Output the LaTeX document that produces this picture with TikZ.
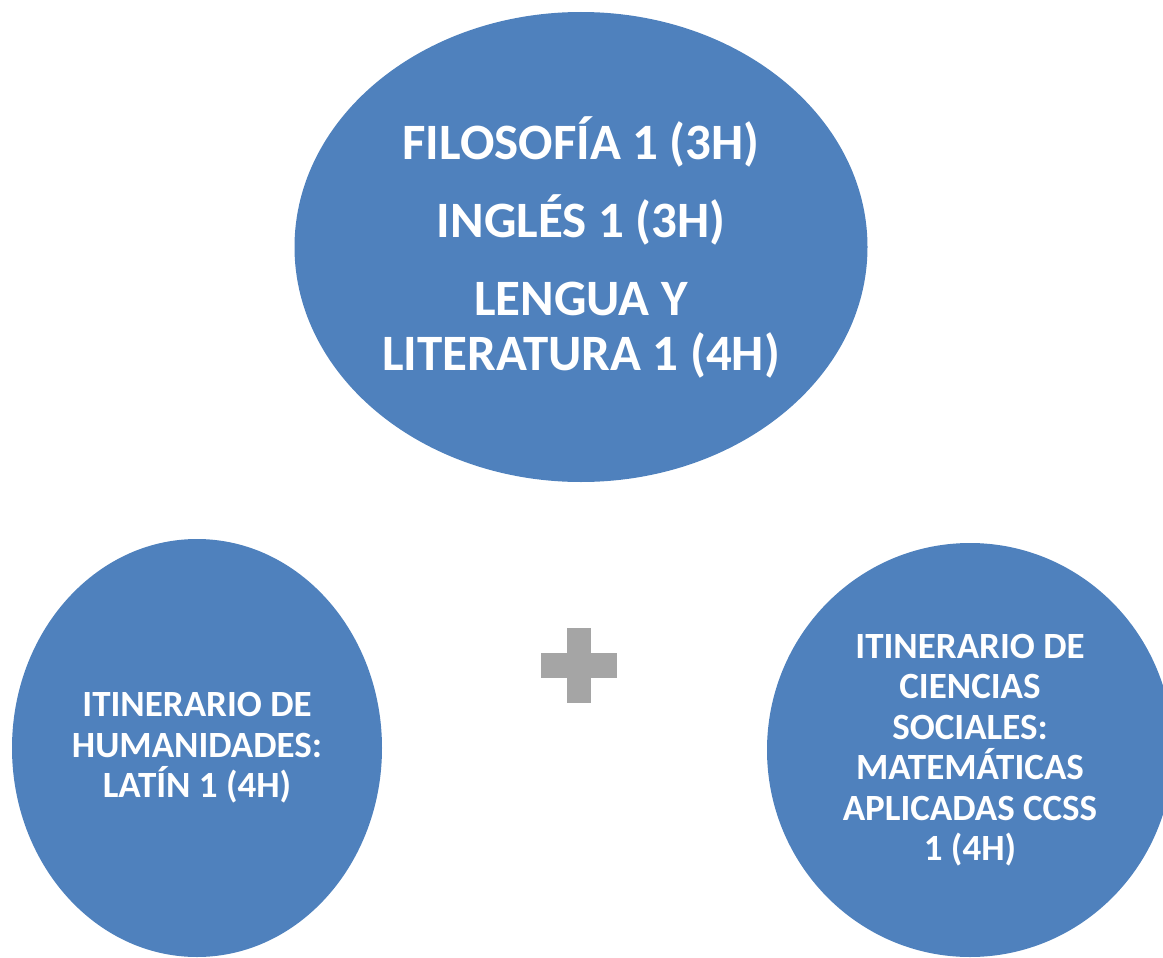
\documentclass[tikz,border=0pt]{standalone}
\usepackage{fontspec}
\setmainfont{Carlito}
\usetikzlibrary{shapes.geometric}

\definecolor{boxblue}{HTML}{4F81BD}
\definecolor{plusgray}{HTML}{A5A5A5}

\tikzset{
    subject/.style={ellipse, fill=boxblue, draw=none, text=white, inner sep=0pt,
        align=center, font=\bfseries},
}

\begin{document}
\begin{tikzpicture}[x=1pt, y=-1pt]
    \useasboundingbox (0,0) rectangle (1163,958);

    % Draw nodes
    \node[subject, minimum width=573pt, minimum height=470pt,
          font=\bfseries\fontsize{51}{55}\selectfont] (core) at (581,247)
        {FILOSOFÍA 1 (3H)\\[23pt] INGLÉS 1 (3H)\\[23pt] LENGUA Y\\ LITERATURA 1 (4H)};
    \node[subject, minimum width=370pt, minimum height=418pt,
          font=\bfseries\fontsize{37}{40.5}\selectfont] (humanidades) at (197,748)
        {ITINERARIO DE\\ HUMANIDADES:\\ LATÍN 1 (4H)};
    \node[subject, minimum width=406pt, minimum height=414pt,
          font=\bfseries\fontsize{37}{40.5}\selectfont] (sociales) at (970,750)
        {ITINERARIO DE\\ CIENCIAS\\ SOCIALES:\\ MATEMÁTICAS\\ APLICADAS CCSS\\ 1 (4H)};

    % Plus sign
    \fill[plusgray] (567,628) rectangle (591,703);
    \fill[plusgray] (541,653) rectangle (617,678);
\end{tikzpicture}
\end{document}
